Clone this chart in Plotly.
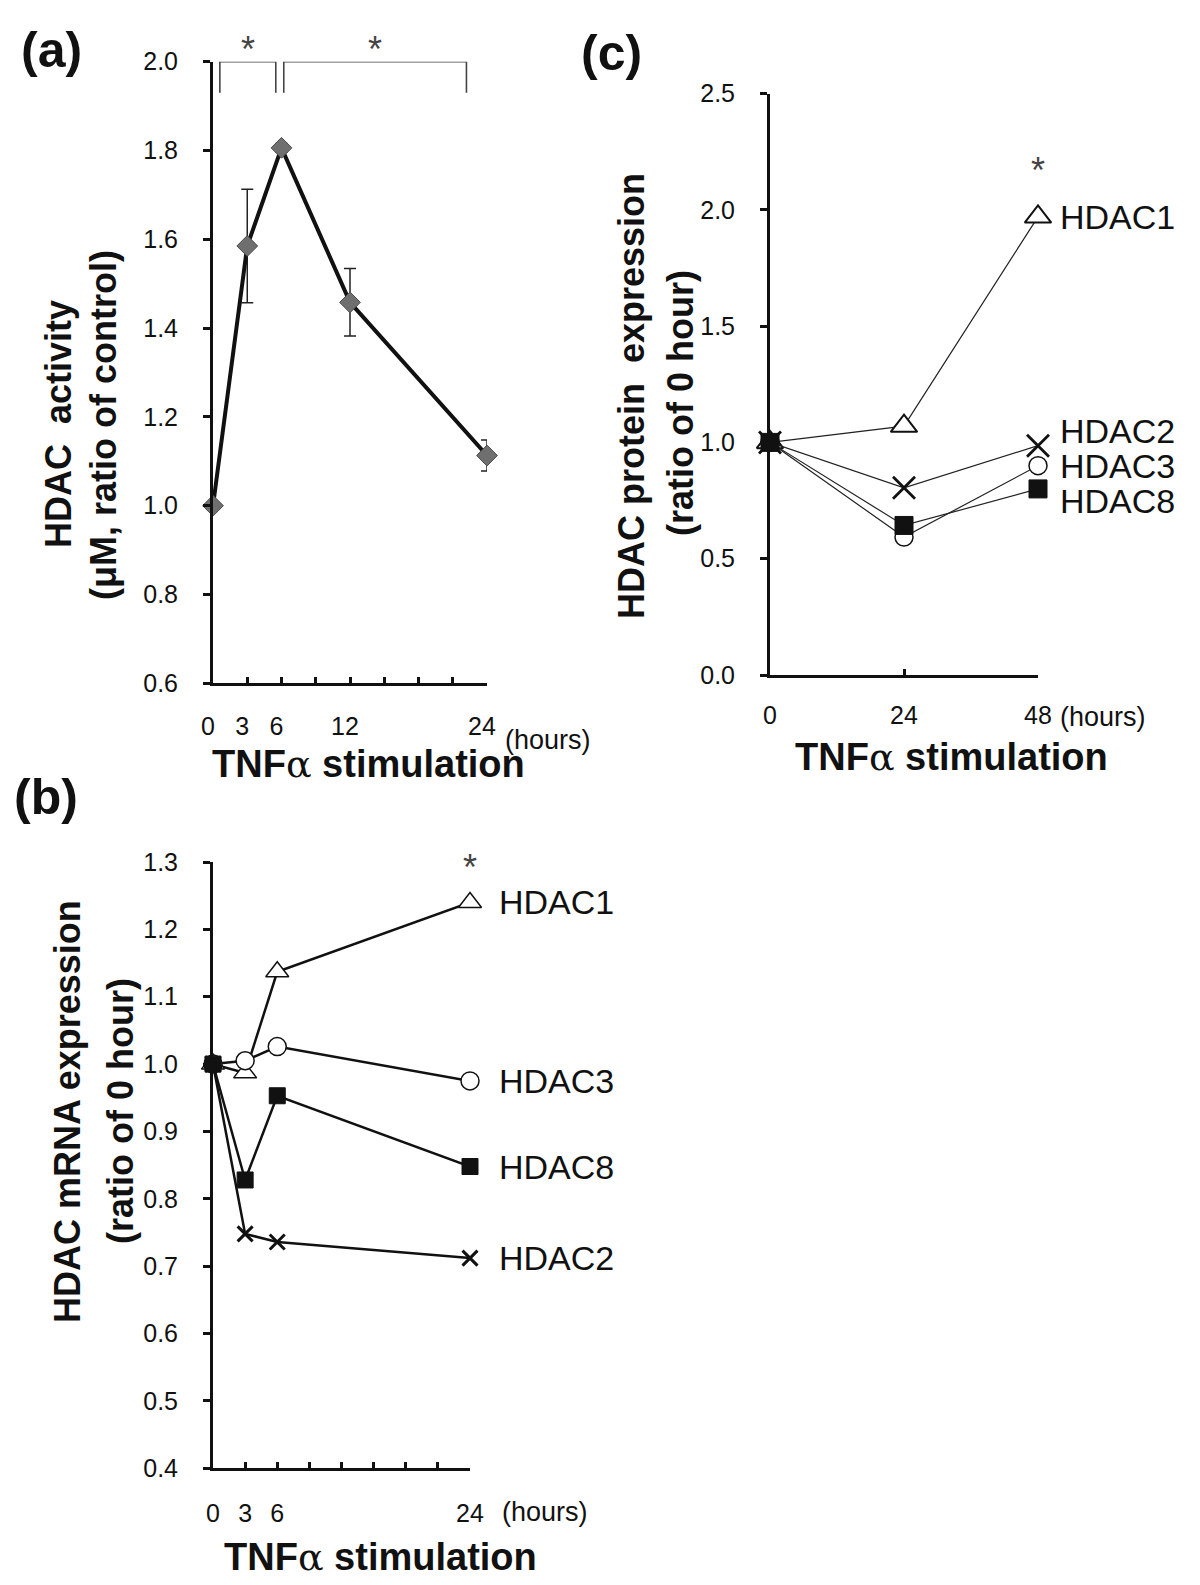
import plotly.graph_objects as go

W, H = 1200, 1585

# ---------------- data ----------------
# (a) HDAC activity
a_hours = [0, 3, 6, 12, 24]
a_activity = [1.0, 1.585, 1.806, 1.458, 1.113]
a_err = [0.0, 0.128, 0.01, 0.076, 0.035]
a_xticks = [0, 3, 6, 9, 12, 15, 18, 21, 24]
a_xticklabels = ["0", "3", "6", "", "12", "", "", "", "24"]
a_yrange = [0.6, 2.0]
a_brackets = [(0.6, 5.5), (6.2, 22.2)]
a_bracket_top = 2.0
a_bracket_drop = 1.93
a_star_x = [3.07, 14.2]
a_star_y = 2.044

# (b) HDAC mRNA expression
b_hours = [0, 3, 6, 24]
b_hdac1 = [1.0, 0.987, 1.137, 1.240]
b_hdac3 = [1.0, 1.005, 1.026, 0.975]
b_hdac2 = [1.0, 0.748, 0.736, 0.712]
b_hdac8 = [1.0, 0.828, 0.953, 0.848]
b_xticks = [0, 3, 6, 9, 12, 15, 18, 21, 24]
b_xticklabels = ["0", "3", "6", "", "", "", "", "", "24"]
b_yrange = [0.4, 1.3]
b_star = (24, 1.303)

# (c) HDAC protein expression
c_hours = [0, 24, 48]
c_hdac1 = [1.0, 1.07, 1.97]
c_hdac2 = [1.0, 0.805, 0.986]
c_hdac3 = [1.0, 0.593, 0.90]
c_hdac8 = [1.0, 0.643, 0.80]
c_yrange = [0.0, 2.5]
c_star = (48, 2.2)

FONT = "Liberation Sans, Arial, sans-serif"


def px(x):
    return x / W


def py(y):
    return 1 - y / H


def dom(v, rng):
    return (v - rng[0]) / (rng[1] - rng[0])


fig = go.Figure()

# ---------- panel (a) ----------
for x0, x1 in a_brackets:
    fig.add_trace(go.Scatter(
        x=[x0, x0, x1, x1], y=[a_bracket_drop, a_bracket_top, a_bracket_top, a_bracket_drop],
        mode="lines", line=dict(color="#444444", width=1.6),
        xaxis="x", yaxis="y", cliponaxis=False, hoverinfo="skip"))

fig.add_trace(go.Scatter(
    x=a_hours, y=a_activity, mode="lines+markers",
    line=dict(color="#111111", width=4),
    marker=dict(symbol="diamond", size=16, color="#6f6f6f",
                line=dict(color="#4a4a4a", width=1)),
    error_y=dict(type="data", array=a_err, visible=True, color="#222222",
                 thickness=1.5, width=6),
    xaxis="x", yaxis="y", cliponaxis=False))

# ---------- panel (b) ----------
b_style = dict(xaxis="x2", yaxis="y2", cliponaxis=False, mode="lines+markers")
fig.add_trace(go.Scatter(x=b_hours, y=b_hdac1, line=dict(color="#111", width=2.5),
                         marker=dict(symbol="triangle-up", size=20, color="white",
                                     line=dict(color="#111", width=1.5)), **b_style))
fig.add_trace(go.Scatter(x=b_hours, y=b_hdac3, line=dict(color="#111", width=2.5),
                         marker=dict(symbol="circle", size=18, color="white",
                                     line=dict(color="#111", width=1.5)), **b_style))
fig.add_trace(go.Scatter(x=b_hours, y=b_hdac2, line=dict(color="#111", width=2.5),
                         marker=dict(symbol="x-thin", size=15, color="#111",
                                     line=dict(color="#111", width=3)), **b_style))
fig.add_trace(go.Scatter(x=b_hours, y=b_hdac8, line=dict(color="#111", width=2.5),
                         marker=dict(symbol="square", size=16, color="#111",
                                     line=dict(color="#111", width=1)), **b_style))

# ---------- panel (c) ----------
c_style = dict(xaxis="x3", yaxis="y3", cliponaxis=False, mode="lines+markers")
fig.add_trace(go.Scatter(x=c_hours, y=c_hdac1, line=dict(color="#222", width=1.2),
                         marker=dict(symbol="triangle-up", size=23, color="white",
                                     line=dict(color="#111", width=2)), **c_style))
fig.add_trace(go.Scatter(x=c_hours, y=c_hdac2, line=dict(color="#222", width=1.2),
                         marker=dict(symbol="x-thin", size=22, color="#111",
                                     line=dict(color="#111", width=2.8)), **c_style))
fig.add_trace(go.Scatter(x=c_hours, y=c_hdac3, line=dict(color="#222", width=1.2),
                         marker=dict(symbol="circle", size=18, color="white",
                                     line=dict(color="#111", width=1.5)), **c_style))
fig.add_trace(go.Scatter(x=c_hours, y=c_hdac8, line=dict(color="#222", width=1.2),
                         marker=dict(symbol="square", size=18, color="#111",
                                     line=dict(color="#111", width=1)), **c_style))

# ---------- axes ----------
tickfont = dict(family=FONT, size=25, color="#111")
common_y = dict(showline=True, linecolor="#111", linewidth=3, ticks="outside",
                ticklen=7, tickwidth=2.5, tickcolor="#111", showgrid=False,
                zeroline=False, tickfont=tickfont, tickformat=".1f",
                ticklabelstandoff=20, automargin=False)
common_x = dict(showline=True, linecolor="#111", linewidth=3, ticks="inside",
                ticklen=6, tickwidth=2.5, tickcolor="#111", showgrid=False,
                zeroline=False, tickfont=tickfont, tickmode="array",
                automargin=False)

fig.update_layout(
    width=W, height=H,
    margin=dict(l=0, r=0, t=0, b=0, pad=0, autoexpand=False),
    paper_bgcolor="white", plot_bgcolor="rgba(0,0,0,0)", showlegend=False,
    xaxis=dict(domain=[px(213), px(487)], range=[0, 24], anchor="y",
               tickvals=a_xticks, ticktext=a_xticklabels, ticklabelstandoff=19,
               ticklabelshift=-5, **common_x),
    yaxis=dict(domain=[py(683.3), py(61.7)], range=a_yrange, dtick=0.2,
               anchor="x", **common_y),
    xaxis2=dict(domain=[px(213), px(470)], range=[0, 24], anchor="y2",
                tickvals=b_xticks, ticktext=b_xticklabels, ticklabelstandoff=21,
                **common_x),
    yaxis2=dict(domain=[py(1468.3), py(862)], range=b_yrange, dtick=0.1,
                anchor="x2", **common_y),
    xaxis3=dict(domain=[px(770), px(1038)], range=[0, 48], anchor="y3",
                tickvals=c_hours, ticktext=[str(v) for v in c_hours],
                ticklabelstandoff=16, **common_x),
    yaxis3=dict(domain=[py(675), py(93.5)], range=c_yrange, dtick=0.5,
                anchor="x3", **common_y),
)

ann = []


def text(x, y, t, size, bold=False, angle=0, xanchor="center", yanchor="middle",
         color="#111", family=FONT):
    ann.append(dict(x=px(x), y=py(y), xref="paper", yref="paper", text=t,
                    showarrow=False, textangle=angle, xanchor=xanchor,
                    yanchor=yanchor, font=dict(family=family, size=size,
                                               color=color, weight="bold" if bold else "normal")))


# panel letters
text(51, 50, "(a)", 50, bold=True)
text(46, 797, "(b)", 50, bold=True)
text(611, 53, "(c)", 50, bold=True)

# y titles
text(58, 424, "HDAC\u00a0 activity", 36, bold=True, angle=-90)
text(103, 425, "(\u03bcM, ratio of control)", 36, bold=True, angle=-90)
text(67, 1112, "HDAC mRNA expression", 36, bold=True, angle=-90)
text(120, 1111, "(ratio of 0 hour)", 36, bold=True, angle=-90)
text(631, 396, "HDAC protein\u00a0 expression", 36, bold=True, angle=-90)
text(680, 403, "(ratio of 0 hour)", 36, bold=True, angle=-90)

# x titles
xt = "<b>TNF</b><span style=\"font-family:DejaVu Serif\">\u03b1</span><b> stimulation</b>"
text(368, 764, xt, 38)
text(380, 1557, xt, 38)
text(951, 757, xt, 38)

# (hours)
text(503, 740, "(hours)", 27, xanchor="left")
text(500, 1512, "(hours)", 27, xanchor="left")
text(1058, 717, "(hours)", 27, xanchor="left")

# significance stars (placed in axis-domain units derived from the data values)
star_font = dict(family=FONT, size=36, color="#444")
for sx in a_star_x:
    ann.append(dict(x=sx, y=dom(a_star_y, a_yrange), xref="x", yref="y domain",
                    text="*", showarrow=False, yshift=15, font=star_font))
ann.append(dict(x=b_star[0], y=dom(b_star[1], b_yrange), xref="x2", yref="y2 domain",
                text="*", showarrow=False, yshift=15, font=star_font))
ann.append(dict(x=c_star[0], y=dom(c_star[1], c_yrange), xref="x3", yref="y3 domain",
                text="*", showarrow=False, yshift=15, font=star_font))

# series labels (b)
for name, series in [("HDAC1", b_hdac1), ("HDAC3", b_hdac3), ("HDAC8", b_hdac8), ("HDAC2", b_hdac2)]:
    ann.append(dict(x=b_hours[-1], y=series[-1], xref="x2", yref="y2", text=name,
                    showarrow=False, xanchor="left", xshift=27,
                    font=dict(family=FONT, size=34, color="#111")))
# series labels (c)
for name, series, ys in [("HDAC1", c_hdac1, 0), ("HDAC2", c_hdac2, 15),
                         ("HDAC3", c_hdac3, 0), ("HDAC8", c_hdac8, -12)]:
    ann.append(dict(x=c_hours[-1], y=series[-1], xref="x3", yref="y3", text=name,
                    showarrow=False, xanchor="left", xshift=20, yshift=ys,
                    font=dict(family=FONT, size=34, color="#111")))

fig.update_layout(annotations=ann)
fig.write_html(
    "out.html",
    config={"displayModeBar": False},
    post_script="document.documentElement.style.margin='0';"
                "document.body.style.margin='0';document.body.style.padding='0';"
                "document.body.style.overflow='hidden';",
)
